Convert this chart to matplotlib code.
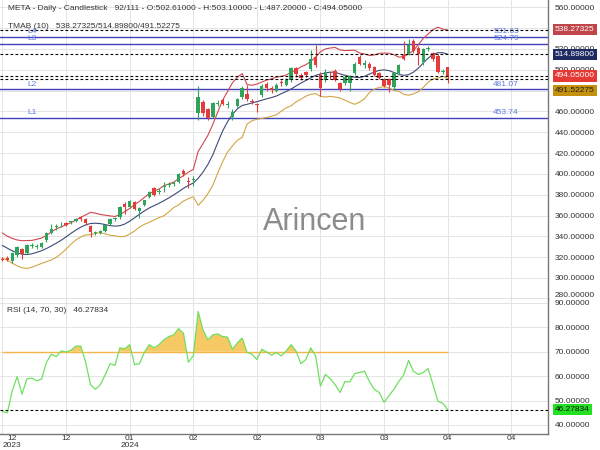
import numpy as np
import matplotlib.pyplot as plt
import matplotlib.transforms as mtransforms

plt.rcParams['font.family'] = ['Liberation Sans', 'DejaVu Sans']

# daily candles, META
opens = [318.5, 319.5, 316, 322.5, 328, 324, 331, 330, 330, 336,
         343.5, 349, 351.5, 353, 353.5, 354.5, 359, 356.5, 350, 343,
         343, 345.5, 352, 357, 359, 371, 368.5, 372.5, 364, 370,
         378, 386, 383, 387.5, 389.5, 390, 392.5, 403, 393, 394,
         458, 469.5, 462, 455, 467, 471, 466, 455, 465, 473.5,
         477, 470, 466.5, 476, 486.5, 482, 480, 488, 485.5, 490,
         501.5, 495, 497.5, 500.5, 512.5, 495, 490, 495, 499, 487,
         487.5, 487, 497, 512.5, 504.5, 506, 503, 497, 491, 491.5,
         483.5, 496.5, 514, 515.5, 528, 521, 507, 520, 516, 513.5,
         497.5, 502.61]
highs = [320, 321, 325, 331, 329, 333, 334, 333, 335, 344,
         352, 352, 354, 354, 355, 358, 360, 357.5, 351, 345,
         346, 352, 358, 359, 369, 373, 375, 374, 368, 375,
         384, 387, 386, 392, 392, 393, 401, 405, 397, 398,
         484.5, 471, 463, 469.5, 471, 472.5, 470, 462, 473, 484,
         485, 472, 468, 486, 488.5, 484, 487, 490, 492, 502.5,
         503, 497, 499, 519, 523.5, 498, 501, 498, 500.5, 488,
         496, 495, 507, 514, 509, 507, 504, 498, 492, 492.5,
         498, 506, 528, 530, 529.5, 523, 521, 522.5, 517.5, 515,
         501, 503.1]
lows = [316, 316.5, 314, 320, 318, 323, 329, 327.5, 329, 335,
        342, 346, 349, 350, 352, 354, 355, 351, 339.5, 341,
        342, 344.5, 351, 355, 357, 361, 367, 365, 357.5, 369,
        377, 379, 381, 383, 387, 388, 391, 398, 386, 388,
        451.5, 456, 452, 453.5, 465, 466, 463, 452, 464, 472,
        470, 467, 459, 474, 479.5, 478, 479, 484, 484, 488,
        493, 490, 493, 499, 503, 474.5, 488, 491, 489, 480,
        485, 480, 495, 505, 502, 500, 494, 491, 483, 479,
        481, 495, 509, 514, 516, 505, 505, 518, 508, 496.5,
        496, 487.2]
closes = [317.5, 317, 324, 330, 323.5, 332, 331.5, 330.5, 333.5, 343,
          347.5, 350, 352, 351, 354, 357, 356.5, 352.5, 344.5, 343.5,
          345.5, 351, 356.5, 357.5, 368, 368.5, 373.5, 366, 367.5, 374.5,
          382.5, 380, 384, 388.5, 390.5, 391.5, 400, 399.5, 392, 395,
          473.5, 458, 454, 468.5, 467.5, 467.5, 467, 459.5, 471.5, 482,
          472, 469.5, 466, 484.5, 482, 480.5, 485.5, 487.5, 490, 501.5,
          495.5, 492, 495, 510, 505, 482.5, 498, 494.5, 490, 481.5,
          493.5, 494, 506, 506, 506.5, 501.5, 495, 492.5, 484, 485.5,
          497, 504.5, 510, 524, 518, 515.5, 519.5, 521, 510, 498,
          499, 494.05]

# TMAB(10): middle line and half band width
tma_mid = [331.2, 328.6, 326.1, 324.1, 322.8, 322.5, 323.2, 324.6, 326.2, 328.3,
           330.8, 333.4, 336.2, 339.4, 342.8, 346.0, 348.8, 351.0, 352.3, 352.6,
           352.2, 351.3, 350.3, 349.8, 350.2, 351.8, 354.5, 357.8, 361.2, 364.4,
           367.2, 369.5, 371.7, 374.2, 376.9, 379.8, 382.8, 386.1, 388.9, 391.2,
           395.7, 401.8, 409.1, 418.4, 430.0, 441.2, 450.0, 457.1, 462.5, 465.7,
           466.8, 468.1, 469.3, 470.7, 472.1, 473.3, 474.8, 477.0, 479.2, 481.5,
           484.4, 487.2, 489.7, 492.2, 494.6, 495.9, 496.9, 497.7, 497.6, 496.0,
           494.6, 493.6, 492.8, 492.5, 493.7, 495.9, 497.8, 499.4, 499.9, 499.2,
           497.4, 495.7, 494.6, 495.3, 497.7, 501.5, 506.5, 511.2, 514.8, 516.4,
           516.4, 514.898]
tma_width = [12.0, 11.5, 11.9, 12.4, 13.0, 13.4, 12.9, 12.5, 12.2, 12.6,
             13.5, 13.7, 12.8, 11.7, 10.4, 9.5, 9.5, 9.6, 10.7, 9.7,
             8.8, 9.0, 9.3, 9.3, 10.6, 11.9, 12.3, 12.7, 12.3, 12.9,
             13.7, 13.8, 13.7, 14.5, 13.4, 12.2, 12.6, 12.2, 12.7, 13.1,
             25.8, 27.3, 28.0, 29.2, 29.3, 29.5, 29.1, 30.3, 30.3, 30.7,
             19.0, 17.0, 16.9, 17.5, 18.0, 17.9, 18.1, 16.7, 15.8, 16.1,
             15.3, 15.6, 15.1, 15.7, 17.5, 21.4, 23.1, 23.2, 23.8, 23.1,
             23.8, 25.0, 26.0, 23.6, 21.5, 17.8, 16.4, 16.4, 16.1, 16.7,
             17.1, 16.4, 18.1, 19.8, 20.9, 22.6, 23.5, 23.1, 23.7, 24.5,
             22.6, 23.375]

rsi = [45.5, 45.0, 54.0, 59.8, 52.6, 58.9, 59.2, 58.1, 58.8, 65.7,
       69.0, 68.0, 70.3, 69.9, 70.6, 72.3, 72.3, 65.7, 56.5, 54.6,
       56.5, 60.5, 65.1, 64.4, 71.6, 71.2, 72.9, 64.7, 65.1, 69.7,
       72.9, 71.6, 72.9, 74.9, 76.2, 76.9, 79.5, 77.5, 65.7, 68.3,
       86.5, 78.8, 74.9, 76.9, 77.3, 76.2, 76.0, 71.0, 73.6, 75.6,
       69.7, 69.0, 66.8, 71.0, 69.9, 68.6, 69.7, 68.3, 70.3, 72.9,
       70.3, 65.1, 66.8, 71.6, 68.3, 55.9, 60.7, 58.9, 56.5, 53.3,
       57.8, 57.6, 61.1, 61.5, 62.0, 57.8, 54.6, 53.3, 49.3, 52.0,
       54.6, 57.8, 60.5, 66.4, 62.0, 60.7, 61.5, 63.1, 56.5, 49.7,
       48.9, 46.27834]

level_names = ['L1', 'L2', 'L3', 'L4']
level_values = [453.74, 481.07, 524.79, 531.63]

tick_bars = [0, 13, 26, 39, 52, 65, 78, 91, 104]
tick_labels = ['12\n2023', '12', '01\n2024', '02', '02', '03', '03', '04', '04']
n_slots = 111

x = np.arange(len(closes))
o = np.array(opens)
h = np.array(highs)
l = np.array(lows)
c = np.array(closes)
mid = np.array(tma_mid)
wid = np.array(tma_width)
upper = mid + wid
lower = mid - wid
rsi = np.array(rsi)

fig = plt.figure(figsize=(6, 4.5), dpi=100)
ax = fig.add_axes([0, 1 - 299 / 450, 548 / 600, 299 / 450])
ax2 = fig.add_axes([0, 1 - 434 / 450, 548 / 600, 135 / 450], sharex=ax)

green = '#2ea35a'
red = '#e53b3b'
grid_c = '#e4e4e4'
spine_c = '#777777'

for a in (ax, ax2):
    a.set_facecolor('white')
    a.grid(True, color=grid_c, lw=0.7)
    a.set_axisbelow(True)
    a.yaxis.tick_right()
    a.tick_params(axis='y', length=0, pad=5, labelsize=6, labelcolor='#333333')
    a.tick_params(axis='x', length=0, pad=1, labelsize=6, labelcolor='#333333')
    for s in ('left', 'top'):
        a.spines[s].set_visible(False)
    for s in ('right', 'bottom'):
        a.spines[s].set_color(spine_c)
        a.spines[s].set_linewidth(1)

# candles
colors = np.where(c >= o, green, red)
ax.vlines(x, l, h, colors=colors, lw=0.8, zorder=3)
body = np.maximum(np.abs(c - o), 0.8)
ax.bar(x, body, bottom=np.minimum(o, c), width=0.7, color=colors, zorder=4)

# bands
ax.plot(x, upper, color='#d0484f', lw=0.8, zorder=2)
ax.plot(x, mid, color='#3d4a78', lw=0.8, zorder=2)
ax.plot(x, lower, color='#d4a545', lw=0.8, zorder=2)

ax.set_xlim(-0.5, n_slots + 0.5)
ax.set_ylim(279.8, 567.0)
yt = np.arange(300, 561, 20)
ax.set_yticks(yt)
# 480 sits under the value boxes in the chart
ax.set_yticklabels(['' if v == 480 else '%.5f' % v for v in yt])
ax.tick_params(axis='x', labelbottom=False)

trans = mtransforms.blended_transform_factory(ax.transAxes, ax.transData)
ax.text(1.0 + 7 / 548, 280, '280.00000', transform=trans, fontsize=6,
        color='#333333', va='bottom', ha='left')

# support / resistance levels
for name, val in zip(level_names, level_values):
    ax.axhline(val, color='#4040b8', lw=1, zorder=1)
    ax.text(5, val + 1.5, name, color='#5b7be0', fontsize=6, va='bottom')
    ax.text(100.3, val + 1.5, '%.2f' % val, color='#5b7be0', fontsize=6,
            va='bottom', ha='left')

# current value lines with boxes on the axis (lowest box nudged down, as in the chart)
last_vals = [538.27325, mid[-1], c[-1], 491.52275]
box_shift = [0, 0, 0, -11.5]
box_fc = ['#c0454a', '#1e2b63', '#e53935', '#c4900e']
box_tc = ['white', 'white', 'white', '#222222']
for val, dy, fc, tc in zip(last_vals, box_shift, box_fc, box_tc):
    ax.axhline(val, color='black', lw=0.8, ls=(0, (2.5, 2)), zorder=5)
    ax.text(1.0 + 7 / 548, val + dy, '%.5f' % val, transform=trans, fontsize=6,
            color=tc, va='center', ha='left', zorder=10, clip_on=False,
            bbox=dict(boxstyle='square,pad=0.25', fc=fc, ec='none'))

ax.text(8 / 548, 1 - 8 / 299,
        'META - Daily - Candlestick   92/111 - O:%.5f - H:%.5f - L:%.5f - C:%.5f'
        % (o[-1], h[-1], l[-1], c[-1]),
        transform=ax.transAxes, fontsize=6, color='#333333', va='center')
ax.text(8 / 548, 1 - 26 / 299,
        'TMAB (10)   %.5f/%.5f/%.5f' % (538.27325, mid[-1], 491.52275),
        transform=ax.transAxes, fontsize=6, color='#333333', va='center')
ax.text(315 / 548, 1 - 222 / 299, 'Arincen', transform=ax.transAxes,
        fontsize=22, color='#8c8c8c', ha='center', va='center')

# RSI panel
ax2.hlines(70, x[0], x[-1], color='#f5b548', lw=1, zorder=2)
ax2.fill_between(x, rsi, 70, where=rsi >= 70, interpolate=True,
                 color='#f7c453', alpha=0.9, lw=0, zorder=2)
ax2.plot(x, rsi, color='#6ee060', lw=0.9, zorder=3)
ax2.axhline(rsi[-1], color='black', lw=0.8, ls=(0, (2.5, 2)), zorder=4)
ax2.set_ylim(36.3, 91.6)
ax2.set_yticks(np.arange(40, 91, 10))
ax2.set_yticklabels(['%.5f' % v for v in np.arange(40, 91, 10)])
trans2 = mtransforms.blended_transform_factory(ax2.transAxes, ax2.transData)
ax2.text(1.0 + 7 / 548, rsi[-1], '%.5f' % rsi[-1], transform=trans2,
         fontsize=6, color='#111111', va='center', ha='left', zorder=10,
         clip_on=False, bbox=dict(boxstyle='square,pad=0.25', fc='#22e022', ec='none'))
ax2.text(7 / 548, 1 - 12 / 135, 'RSI (14, 70, 30)   %.5f' % rsi[-1],
         transform=ax2.transAxes, fontsize=6, color='#333333', va='center')

ax2.set_xticks(tick_bars)
ax2.set_xticklabels(tick_labels, linespacing=0.95)
ax2.get_xticklabels()[0].set_horizontalalignment('left')
ax2.get_xticklabels()[0].set_multialignment('center')

fig.savefig('out.png', dpi=100)
